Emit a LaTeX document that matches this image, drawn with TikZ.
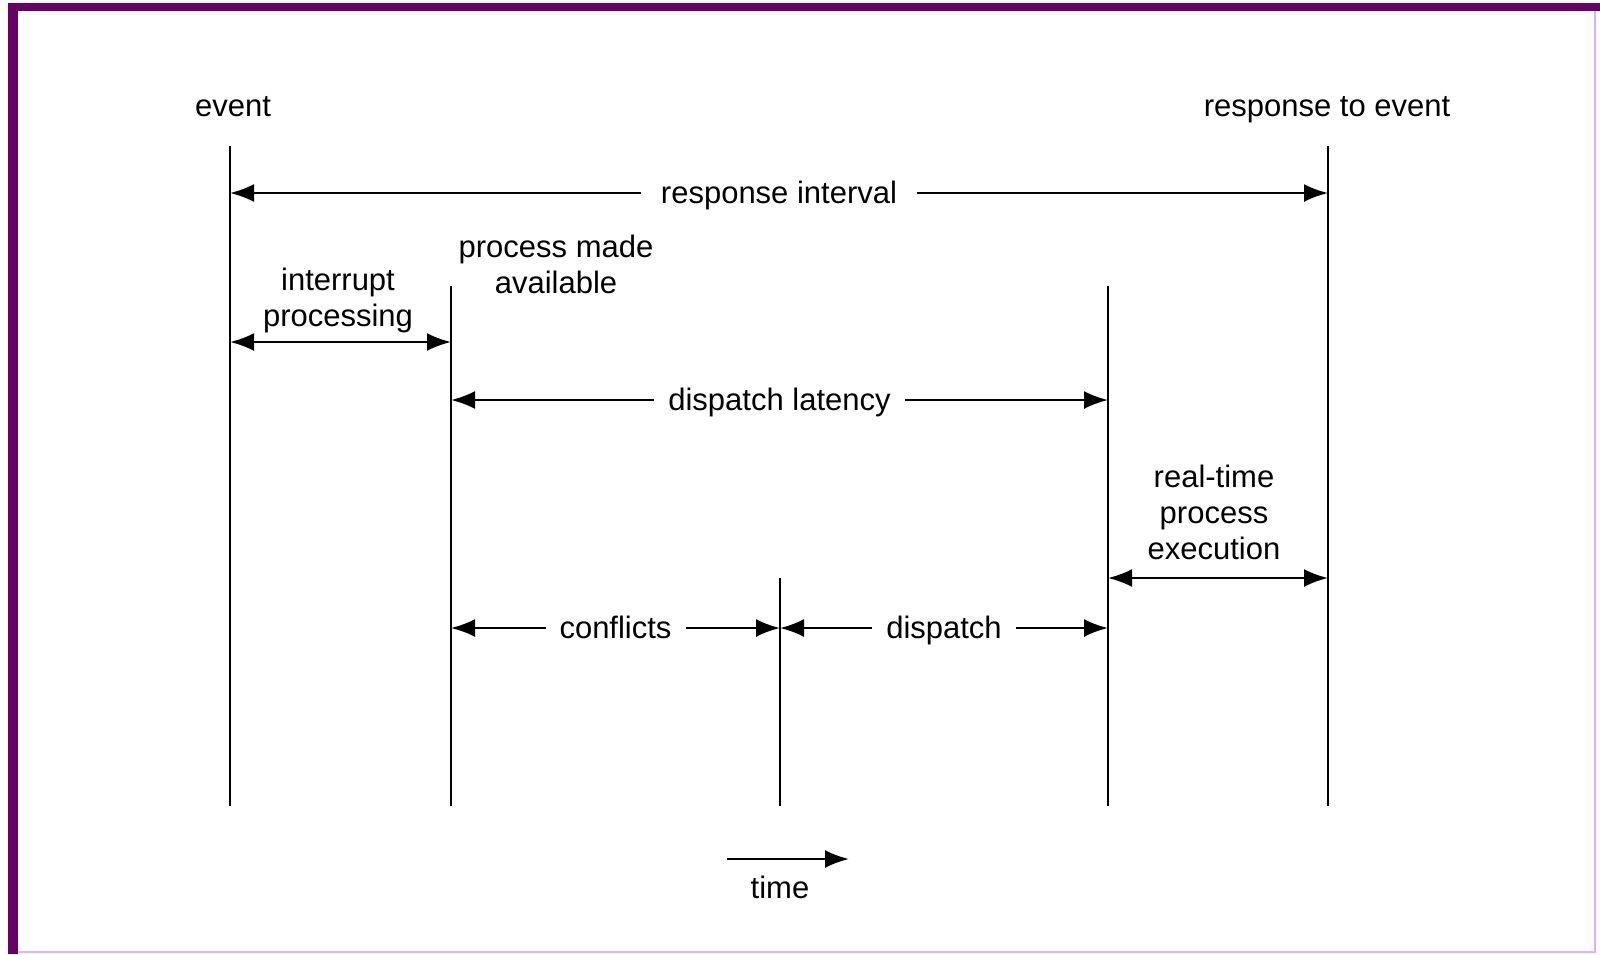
\documentclass[tikz,border=0pt]{standalone}
\usepackage{fontspec}
\setmainfont{Liberation Sans}
\usetikzlibrary{arrows.meta}

\definecolor{framepurple}{HTML}{660066}
\definecolor{framepink}{HTML}{E8B0E8}

\begin{document}
\begin{tikzpicture}[x=0.5pt, y=-0.5pt, line width=1.2pt,
    >={Latex[length=12pt,width=9pt]},
    lbl/.style={font=\fontsize{15.5}{18}\selectfont, align=center, inner sep=1pt},
    word/.style={lbl, text height=13pt, text depth=2.5pt},
    gap/.style={word, fill=white, inner xsep=7pt, inner ysep=1pt}]
  \useasboundingbox (0,0) rectangle (1600,954);
  % frame
  \fill[framepurple] (8,3) rectangle (18,954);
  \fill[framepurple] (8,3) rectangle (1600,11);
  \draw[framepink, line width=1.2pt] (18,952) -- (1595,952) -- (1595,11);

  % time lines
  \foreach \n/\x/\t in {a/230/146, b/451/286, c/780/578, d/1108/286, e/1328/146} {
    \coordinate (top-\n) at (\x,\t);
    \coordinate (bot-\n) at (\x,806);
    \draw (top-\n) -- (bot-\n);
  }

  % levels of the intervals
  \coordinate (lvl-resp) at (0,193);
  \coordinate (lvl-intr) at (0,342);
  \coordinate (lvl-disp) at (0,400);
  \coordinate (lvl-exec) at (0,578);
  \coordinate (lvl-conf) at (0,628);

  \node[word] (event) at (233,106) {event};
  \node[word] (response) at (1327,106) {response to event};
  \node[lbl] (avail) at (556,264) {process made\\available};
  \node[lbl] (intr) at (338,300) {interrupt\\processing};
  \node[lbl] (rtexec) at (1214,512) {real-time\\process\\execution};

  \draw[<->] (top-a |- lvl-resp) -- node[gap, inner xsep=10pt] (respint) {response interval} (top-e |- lvl-resp);
  \draw[<->] (top-a |- lvl-intr) -- (top-b |- lvl-intr);
  \draw[<->] (top-b |- lvl-disp) -- node[gap] (displat) {dispatch latency} (top-d |- lvl-disp);
  \draw[<->] (top-d |- lvl-exec) -- (top-e |- lvl-exec);
  \draw[<->] (top-b |- lvl-conf) -- node[gap] (conf) {conflicts} (top-c |- lvl-conf);
  \draw[<->] (top-c |- lvl-conf) -- node[gap] (disp) {dispatch} (top-d |- lvl-conf);

  % time arrow
  \coordinate (tstart) at (727,859);
  \coordinate (tend) at (849,859);
  \draw[->] (tstart) -- (tend);
  \node[word] (time) at (780,888) {time};
\end{tikzpicture}
\end{document}
